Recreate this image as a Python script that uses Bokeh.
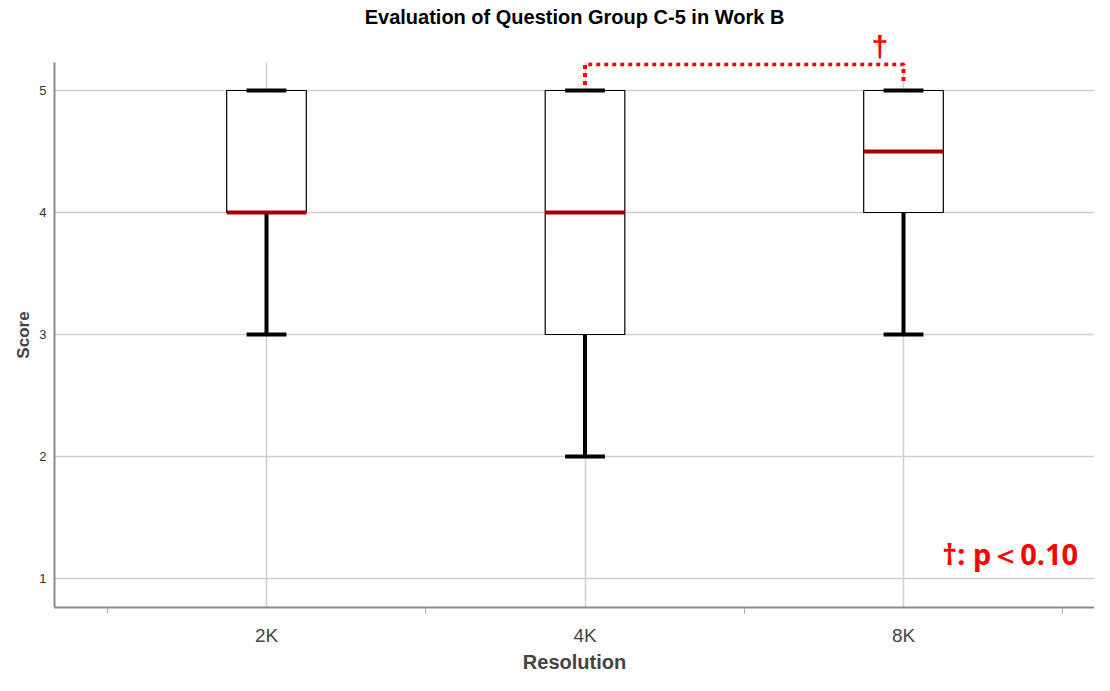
from bokeh.plotting import figure
from bokeh.models import Label, FixedTicker, Range1d, ColumnDataSource, Title
from bokeh.embed import file_html
from bokeh.resources import INLINE

# ---- data ----
categories = ["2K", "4K", "8K"]
mins = [3, 2, 3]
q1 = [4, 3, 4]
medians = [4, 4, 4.5]
q3 = [5, 5, 5]
maxs = [5, 5, 5]
sig_pair = ("4K", "8K")
sig_mark = "†"
sig_note = "†: p＜0.10"
y_ticks = [1, 2, 3, 4, 5]
title_text = "Evaluation of Question Group C-5 in Work B"

xs = [i + 1 for i in range(len(categories))]
box_w = 0.25
cap_w = 0.125

W, H = 1094, 675
left_b, top_b, bottom_b = 54, 62, 68
px_x = 318.5
frame_h = H - top_b - bottom_b
px_y = (frame_h - 57) / 4
x0 = 1 - 212 / px_x
x1 = x0 + (W - left_b) / px_x
y1 = 5 + 28 / px_y
y0 = 1 - 29 / px_y

p = figure(width=W, height=H, output_backend="svg", toolbar_location=None,
           x_range=Range1d(x0, x1), y_range=Range1d(y0, y1),
           min_border_left=left_b, min_border_right=0, min_border_top=top_b,
           min_border_bottom=bottom_b)
p.outline_line_color = None
p.background_fill_color = "white"

# titles (later-added sits closer to the frame)
p.title = Title(text=title_text, align="center", text_color="black",
                text_font="Liberation Sans", text_font_style="bold",
                text_font_size="20px", standoff=0)
p.add_layout(Title(text=sig_mark, align="left", offset=817, text_color="red",
                   text_font="Liberation Sans", text_font_style="bold", text_font_size="30px",
                   standoff=0), "above")

# grid
p.xgrid.ticker = FixedTicker(ticks=xs)
p.ygrid.ticker = FixedTicker(ticks=y_ticks)
for g in (p.xgrid, p.ygrid):
    g.grid_line_color = "#cfcfcf"
    g.grid_line_width = 1.5

# axes
p.xaxis.ticker = FixedTicker(ticks=xs, minor_ticks=[x - 0.5 for x in xs] + [xs[-1] + 0.5])
p.xaxis.major_label_overrides = {x: c for x, c in zip(xs, categories)}
p.xaxis.major_tick_out = 0
p.xaxis.major_tick_in = 0
p.xaxis.minor_tick_out = 6
p.xaxis.minor_tick_in = 0
p.xaxis.minor_tick_line_color = "#aaaaaa"
p.xaxis.major_label_text_font_size = "19px"
p.xaxis.major_label_text_color = "#444444"
p.xaxis.major_label_text_font = "Liberation Sans"
p.xaxis.major_label_standoff = 11
p.xaxis.axis_label = "Resolution"
p.xaxis.axis_label_text_font = "Liberation Sans"
p.xaxis.axis_label_text_font_style = "bold"
p.xaxis.axis_label_text_font_size = "20px"
p.xaxis.axis_label_standoff = 2

p.yaxis.ticker = FixedTicker(ticks=y_ticks)
p.yaxis.major_tick_out = 0
p.yaxis.major_tick_in = 0
p.yaxis.minor_tick_line_color = None
p.yaxis.major_label_text_font_size = "13px"
p.yaxis.major_label_text_color = "#333333"
p.yaxis.major_label_text_font = "Liberation Sans"
p.yaxis.major_label_standoff = 8
p.yaxis.axis_label = "Score"
p.yaxis.axis_label_text_font = "Liberation Sans"
p.yaxis.axis_label_text_font_style = "bold"
p.yaxis.axis_label_text_font_size = "17px"
p.yaxis.axis_label_standoff = 3

for ax in (p.xaxis, p.yaxis):
    ax.axis_line_color = "#8a8a8a"
    ax.axis_line_width = 2

src = ColumnDataSource(dict(x=xs, mins=mins, q1=q1, med=medians, q3=q3, maxs=maxs,
                            left=[x - box_w / 2 for x in xs], right=[x + box_w / 2 for x in xs],
                            cl=[x - cap_w / 2 for x in xs], cr=[x + cap_w / 2 for x in xs]))

# whiskers
p.segment(x0="x", y0="mins", x1="x", y1="q1", source=src, line_color="black", line_width=4)
p.segment(x0="x", y0="q3", x1="x", y1="maxs", source=src, line_color="black", line_width=4)
# boxes
p.quad(left="left", right="right", bottom="q1", top="q3", source=src,
       fill_color="white", line_color="black", line_width=1.2)
# caps
p.segment(x0="cl", y0="mins", x1="cr", y1="mins", source=src, line_color="black", line_width=4)
p.segment(x0="cl", y0="maxs", x1="cr", y1="maxs", source=src, line_color="black", line_width=4)
# medians
p.segment(x0="left", y0="med", x1="right", y1="med", source=src, line_color="#a50000", line_width=4)

# significance bracket
xa = xs[categories.index(sig_pair[0])]
xb = xs[categories.index(sig_pair[1])]
top = max(maxs) + 0.215
low = max(maxs) + 0.045
p.line(x=[xa, xa, xb, xb], y=[low, top, top, low], line_color="red", line_width=4,
       line_dash="4 4")

p.add_layout(Label(x=xs[-1] + 0.122, y=1.205, text=sig_note, text_color="red",
                   text_font="Noto Sans", text_font_style="bold", text_font_size="29px",
                   text_align="left", text_baseline="middle"))

open("out.html", "w").write(file_html(p, INLINE))
